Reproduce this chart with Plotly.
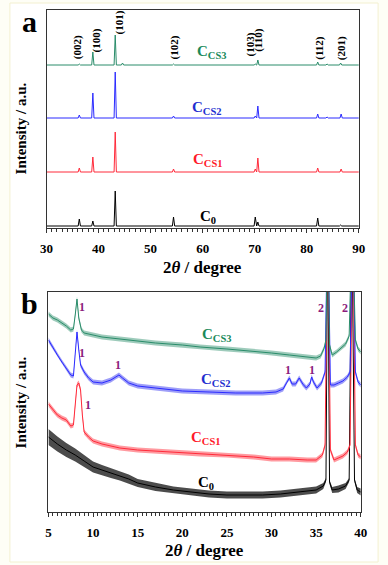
import plotly.graph_objects as go

W, H = 388, 565

# ---------- panel a: XRD 30-90 deg, peak positions / heights (a.u.) ----------
hkl_labels = ["(002)", "(100)", "(101)", "(102)", "(103)", "(110)", "(112)", "(201)"]
hkl_x = [35.9, 39.6, 44.0, 54.4, 69.0, 70.6, 82.3, 86.6]
hkl_y = [181, 188, 206, 180, 183, 188, 180, 180]

a_base = {"C0": 2, "CS1": 56, "CS2": 110, "CS3": 163}
a_pos_c0 = [36.3, 38.9, 43.2, 54.4, 70.1, 70.6, 82.1, 86.5]
a_hgt_c0 = [7, 5, 35, 9, 9, 4, 8, 1]
a_pos_cs1 = [36.3, 38.9, 43.2, 54.4, 70.1, 70.6, 82.1, 86.6]
a_hgt_cs1 = [4, 15, 40, 3, 3, 14, 4, 3]
a_pos_cs2 = [36.3, 38.9, 43.2, 54.4, 70.1, 70.6, 82.1, 83.9, 86.6]
a_hgt_cs2 = [3, 25, 46, 2, 2, 12, 4, 1, 4]
a_pos_cs3 = [36.3, 38.9, 43.2, 44.6, 54.4, 70.1, 70.6, 82.1, 83.9, 86.5]
a_hgt_cs3 = [1, 13, 30, 2, 1, 1, 5, 3, 1, 2]

# ---------- panel b: low-angle scans 5-40 deg ----------
b_x_c0 = [5, 6, 7, 8, 9, 10, 11, 12, 13, 14, 15, 17, 19, 21, 23, 25, 27, 29, 31, 33,
          35, 35.8, 36.1, 36.3, 36.5, 36.8, 37.5, 38.3, 38.7, 39.0, 39.3, 39.6, 40]
b_y_c0 = [75, 68, 62, 57, 51, 45, 42, 39, 36, 33, 29, 25, 22, 20, 18, 17, 17, 17, 18, 20,
          22, 26, 32, 300, 30, 22, 23, 26, 32, 300, 32, 22, 20]
b_n_c0 = [8, 7.5, 7, 6.5, 6, 5.5, 5, 5, 4.5, 4.5, 4, 4, 3.5, 3.5, 3.5, 3.5, 3.5, 3.5, 3.5, 3.5,
          3.5, 3, 2, 2, 2, 3, 3.5, 3, 2, 2, 2, 3, 3.5]

b_x_cs1 = [5, 5.5, 6, 6.5, 7, 7.5, 7.8, 8.0, 8.2, 8.4, 8.6, 8.8, 9.0, 9.5, 10, 11, 12, 13,
           15, 17, 20, 22, 25, 28, 30, 32, 34, 35, 35.7, 36.0, 36.3, 36.6, 37, 37.5, 38,
           38.5, 38.8, 39.1, 39.4, 39.7, 40]
b_y_cs1 = [108, 102, 97, 94, 92, 86, 87, 107, 127, 129, 122, 97, 80, 75, 71, 68, 66, 64,
           62, 61, 59, 58, 57, 55, 53, 53, 52, 52, 57, 67, 300, 62, 52, 54, 56,
           60, 67, 300, 67, 57, 55]

b_x_cs2 = [5, 5.5, 6, 6.5, 7, 7.5, 7.8, 8.0, 8.2, 8.4, 8.6, 9.0, 9.5, 10, 11, 12, 12.5,
           12.9, 13.3, 14, 15, 17, 20, 23, 26, 29, 30.5, 31.3, 31.8, 32.0, 32.3, 32.7,
           33.1, 33.5, 33.9, 34.3, 34.5, 34.7, 35.1, 35.6, 36.0, 36.3, 36.6, 37, 37.5,
           38, 38.5, 38.8, 39.1, 39.4, 39.7, 40]
b_y_cs2 = [172, 164, 157, 150, 144, 137, 136, 162, 180, 162, 147, 140, 134, 130, 129, 132,
           135, 137, 134, 129, 126, 124, 121, 120, 119, 119, 120, 123, 132, 134, 128, 128,
           134, 128, 124, 128, 135, 130, 124, 129, 140, 300, 127, 127, 129, 131, 135, 140,
           300, 140, 130, 127]

b_x_cs3 = [5, 5.5, 6, 6.5, 7, 7.5, 7.8, 8.0, 8.2, 8.4, 8.7, 9.0, 9.5, 10, 11, 12, 13, 15,
           17, 20, 22, 25, 28, 30, 32, 34, 35, 35.5, 35.9, 36.1, 36.3, 36.5, 36.8, 37.3,
           37.8, 38.3, 38.7, 39.05, 39.4, 39.7, 40]
b_y_cs3 = [198, 194, 192, 189, 186, 182, 183, 197, 213, 194, 182, 179, 178, 177, 175, 174,
           173, 171, 169, 167, 165, 163, 161, 159, 157, 155, 154, 156, 164, 172, 300, 167,
           157, 160, 164, 168, 176, 300, 172, 163, 160]

one_x = [8.8, 8.8, 12.8, 31.9, 34.5, 9.4]
one_y = [205, 159, 147, 142, 142, 107]
two_x = [35.5, 38.2]
two_y = [204, 204]

GREEN, BLUE, RED, BLACK = "#2a8c6a", "#2b2bff", "#ff2a3a", "#000000"
PURPLE = "#8b1c7c"
FONT = "Liberation Serif"


def peak_line(pos, hgt, base, lo=30, hi=90, hw=0.22):
    xs, ys = [lo], [base]
    for p, h in sorted(zip(pos, hgt)):
        xs += [p - hw, p, p + hw]
        ys += [base, base + h, base]
    xs.append(hi)
    ys.append(base)
    return xs, ys


def px(v):  # pixel -> paper fraction (x)
    return v / W


def py(v):  # pixel from top -> paper fraction (y)
    return 1 - v / H


fig = go.Figure()

# panel a
for pos, hgt, key, col in ((a_pos_c0, a_hgt_c0, "C0", BLACK),
                           (a_pos_cs1, a_hgt_cs1, "CS1", RED),
                           (a_pos_cs2, a_hgt_cs2, "CS2", BLUE),
                           (a_pos_cs3, a_hgt_cs3, "CS3", GREEN)):
    xs, ys = peak_line(pos, hgt, a_base[key])
    fig.add_trace(go.Scatter(x=xs, y=ys, mode="lines", line=dict(color=col, width=1),
                             xaxis="x", yaxis="y", showlegend=False))

# panel b: noisy band + centre line
for xs, ys, noise, col, fc in ((b_x_c0, b_y_c0, b_n_c0, BLACK, "rgba(0,0,0,0.7)"),
                               (b_x_cs1, b_y_cs1, 2.5, RED, "rgba(255,30,45,0.45)"),
                               (b_x_cs2, b_y_cs2, 2.5, BLUE, "rgba(40,40,240,0.45)"),
                               (b_x_cs3, b_y_cs3, 2.5, GREEN, "rgba(40,140,105,0.45)")):
    n = noise if isinstance(noise, list) else [noise] * len(xs)
    up = [y + a for y, a in zip(ys, n)]
    lo = [y - a for y, a in zip(ys, n)]
    fig.add_trace(go.Scatter(x=xs + xs[::-1], y=up + lo[::-1], mode="lines", fill="toself",
                             fillcolor=fc, line=dict(width=0), xaxis="x2", yaxis="y2",
                             showlegend=False, hoverinfo="skip"))
    fig.add_trace(go.Scatter(x=xs, y=ys, mode="lines", line=dict(color=col, width=1),
                             xaxis="x2", yaxis="y2", showlegend=False))

ann = []
bold = dict(family=FONT, weight="bold")
mid = dict(xanchor="center", yanchor="middle", showarrow=False)

for t, x, y in zip(hkl_labels, hkl_x, hkl_y):
    ann.append(dict(x=x, y=y, xref="x", yref="y", text=t, textangle=-90, **mid,
                    font=dict(size=11, color="black", **bold)))

for txt, x, y, col, xr, yr in (("C<sub>CS3</sub>", 61.8, 176, "#1a8a5a", "x", "y"),
                               ("C<sub>CS2</sub>", 60.9, 120, "#1f2fd0", "x", "y"),
                               ("C<sub>CS1</sub>", 61.0, 68, "#ff1a2a", "x", "y"),
                               ("C<sub>0</sub>", 61.0, 11, "black", "x", "y"),
                               ("C<sub>CS3</sub>", 23.9, 177, "#1a8a5a", "x2", "y2"),
                               ("C<sub>CS2</sub>", 23.8, 132, "#1f2fd0", "x2", "y2"),
                               ("C<sub>CS1</sub>", 22.7, 74, "#ff1a2a", "x2", "y2"),
                               ("C<sub>0</sub>", 22.7, 29, "black", "x2", "y2")):
    ann.append(dict(x=x, y=y, xref=xr, yref=yr, text=txt, **mid,
                    font=dict(size=15, color=col, **bold)))

for x, y in zip(one_x, one_y):
    ann.append(dict(x=x, y=y, xref="x2", yref="y2", text="1", **mid,
                    font=dict(size=12, color=PURPLE, **bold)))
for x, y in zip(two_x, two_y):
    ann.append(dict(x=x, y=y, xref="x2", yref="y2", text="2", **mid,
                    font=dict(size=12, color=PURPLE, **bold)))

# axis titles, panel letters
for t, x, y in (("2<i>θ</i> / degree", 203, 268), ("2<i>θ</i> / degree", 205, 550)):
    ann.append(dict(x=px(x), y=py(y), xref="paper", yref="paper", text=t, **mid,
                    font=dict(size=17, color="black", **bold)))
for y in (128, 402):
    ann.append(dict(x=px(15), y=py(y), xref="paper", yref="paper", text="Intensity / a.u.",
                    textangle=-90, **mid, font=dict(size=15, color="black", **bold)))
for t, x, y in (("a", 23, 21), ("b", 23, 303)):
    ann.append(dict(x=px(x), y=py(y), xref="paper", yref="paper", text=t, **mid,
                    font=dict(size=30, color="black", **bold)))

axis_common = dict(showline=True, mirror=True, linecolor="#333", linewidth=1.2,
                   showgrid=False, zeroline=False)

fig.update_layout(
    width=W, height=H,
    margin=dict(l=0, r=0, t=0, b=0),
    paper_bgcolor="#fefef6",
    plot_bgcolor="white",
    annotations=ann,
    shapes=[dict(type="rect", xref="paper", yref="paper", x0=px(3), x1=px(385),
                 y0=py(562), y1=py(3), line=dict(color="#f3f0d0", width=1),
                 fillcolor="white", layer="below")],
    xaxis=dict(domain=[px(41), px(365)], range=[30, 90], anchor="y", dtick=10,
               ticks="outside", ticklen=4, tickcolor="#333", ticklabelstandoff=4,
               minor=dict(dtick=1, ticks="outside", ticklen=3, tickcolor="#333"),
               tickfont=dict(size=13, color="black", **bold), **axis_common),
    yaxis=dict(domain=[py(228), py(10)], range=[0, 218], anchor="x",
               showticklabels=False, ticks="", **axis_common),
    xaxis2=dict(domain=[px(43), px(367)], range=[5, 40], anchor="y2", dtick=5,
                ticks="outside", ticklen=4, tickcolor="#333", ticklabelstandoff=4,
                minor=dict(dtick=0.5, ticks="outside", ticklen=3, tickcolor="#333"),
                tickfont=dict(size=13, color="black", **bold), **axis_common),
    yaxis2=dict(domain=[py(512), py(292)], range=[0, 220], anchor="x2",
                showticklabels=False, ticks="", **axis_common),
)

# page body has a default 8px margin; drop it so the figure sits at the window corner
fig.write_html("out.html", config={"displayModeBar": False},
               post_script="document.body.style.margin='0';")
